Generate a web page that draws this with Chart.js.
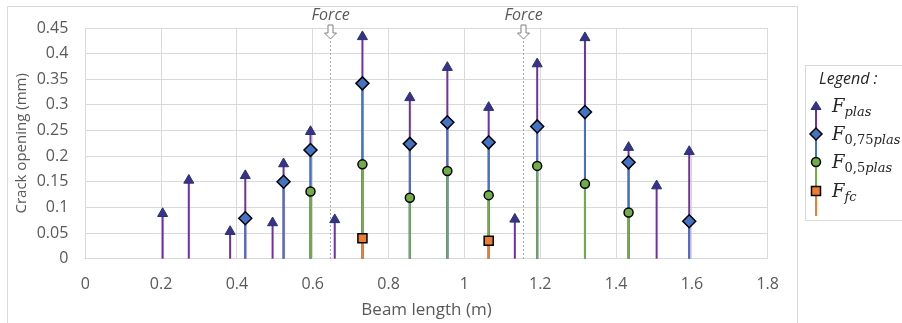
<!DOCTYPE html>
<html>
<head>
<meta charset="utf-8">
<script src="https://cdn.jsdelivr.net/npm/chart.js@4.4.1/dist/chart.umd.min.js"></script>
<style>
  body { margin: 0; background: #fff; }
  #wrap { position: relative; width: 902px; height: 323px; overflow: hidden; }
  #frame { position: absolute; left: 7px; top: 6px; width: 791px; height: 340px; box-sizing: border-box; border: 1px solid #d9d9d9; }
  #legendBox { position: absolute; left: 805px; top: 65px; width: 120px; height: 156px; box-sizing: border-box; border: 1px solid #d9d9d9; }
  .lg { position: absolute; white-space: nowrap; color: #262626; }
  .lgTitle { font: italic 16px/20px 'Open Sans'; }
  .math { font: italic 18px/20px 'DejaVu Serif'; }
  .math .sb { font-size: 13px; position: relative; top: 4px; }
  .math .up { font-style: normal; }
  #legendMarks { position: absolute; left: 805px; top: 65px; }
  canvas { position: absolute; left: 0; top: 0; }
</style>
</head>
<body>
<div id="wrap">
  <div id="frame"></div>
  <canvas id="chartCrack" width="902" height="323"></canvas>
  <div id="legendBox"></div>
  <svg id="legendMarks" width="30" height="156">
    <line x1="11" y1="41" x2="11" y2="69" stroke="#7030A0" stroke-width="2"/>
    <line x1="11" y1="69" x2="11" y2="97" stroke="#4472C4" stroke-width="2"/>
    <line x1="11" y1="97" x2="11" y2="126" stroke="#70AD47" stroke-width="2"/>
    <line x1="11" y1="126" x2="11" y2="151" stroke="#ED7D31" stroke-width="2"/>
    <polygon points="11,36.5 16,44.5 6,44.5" fill="#3C2F8F" stroke="#203864" stroke-width="1"/>
    <polygon points="11,63 17,69 11,75 5,69" fill="#4472C4" stroke="#000" stroke-width="1.5"/>
    <circle cx="11" cy="97" r="4.5" fill="#70AD47" stroke="#000" stroke-width="1.5"/>
    <rect x="6.5" y="121.5" width="9" height="9" fill="#ED7D31" stroke="#000" stroke-width="1.5"/>
  </svg>
  <div class="lg lgTitle" style="left:819px;top:68px">Legend :</div>
  <div class="lg math" style="left:832px;top:96px">F<span class="sb">plas</span></div>
  <div class="lg math" style="left:832px;top:124px">F<span class="sb"><span class="up">0,75</span>plas</span></div>
  <div class="lg math" style="left:832px;top:152px">F<span class="sb"><span class="up">0,5</span>plas</span></div>
  <div class="lg math" style="left:832px;top:181px">F<span class="sb">fc</span></div>
</div>
<script>
// crack positions along the beam (m)
const positions = [0.204, 0.273, 0.382, 0.422, 0.494, 0.523, 0.594, 0.658, 0.731, 0.856,
                   0.955, 1.064, 1.133, 1.192, 1.318, 1.433, 1.507, 1.593];

// crack opening (mm) per load level, null = no crack measured
const fPlas   = [0.088, 0.153, 0.053, 0.162, 0.070, 0.185, 0.248, 0.076, 0.433, 0.314,
                 0.373, 0.295, 0.077, 0.380, 0.431, 0.217, 0.142, 0.209];
const f075    = [null, null, null, 0.079, null, 0.150, 0.212, null, 0.342, 0.224,
                 0.266, 0.227, null, 0.258, 0.286, 0.188, null, 0.073];
const f05     = [null, null, null, null, null, null, 0.131, null, 0.184, 0.119,
                 0.171, 0.124, null, 0.181, 0.146, 0.090, null, null];
const fFc     = [null, null, null, null, null, null, null, null, 0.040, null,
                 null, 0.035, null, null, null, null, null, null];

const forcePositions = [0.645, 1.155];

const xTicks = [0, 0.2, 0.4, 0.6, 0.8, 1, 1.2, 1.4, 1.6, 1.8];
const xTickLabels = ['0', '0.2', '0.4', '0.6', '0.8', '1', '1.2', '1.4', '1.6', '1.8'];
const yTicks = [0, 0.05, 0.1, 0.15, 0.2, 0.25, 0.3, 0.35, 0.4, 0.45];
const yTickLabels = ['0', '0.05', '0.1', '0.15', '0.2', '0.25', '0.3', '0.35', '0.4', '0.45'];

function toPoints(values) {
  return positions.map((x, i) => ({ x: x, y: values[i] })).filter(p => p.y !== null);
}

// vertical stem from 0 up to each marker, drawn series by series
const stemPlugin = {
  id: 'stems',
  beforeDatasetsDraw(chart) {
    const { ctx, scales } = chart;
    const y0 = scales.y.getPixelForValue(0);
    ctx.save();
    ctx.lineWidth = 2;
    chart.data.datasets.forEach((ds, i) => {
      const meta = chart.getDatasetMeta(i);
      ctx.strokeStyle = ds.stemColor;
      meta.data.forEach(pt => {
        ctx.beginPath();
        ctx.moveTo(pt.x, y0);
        ctx.lineTo(pt.x, pt.y);
        ctx.stroke();
      });
    });
    ctx.restore();
  }
};

// "Force" arrows with dotted guide line
const forcePlugin = {
  id: 'forces',
  beforeDatasetsDraw(chart) {
    const { ctx, chartArea, scales } = chart;
    const top = chartArea.top;
    ctx.save();
    forcePositions.forEach(f => {
      const cx = Math.round(scales.x.getPixelForValue(f)) + 0.5;
      ctx.strokeStyle = '#a6a6a6';
      ctx.lineWidth = 1;
      ctx.setLineDash([2, 2]);
      ctx.beginPath();
      ctx.moveTo(cx, top + 13);
      ctx.lineTo(cx, chartArea.bottom);
      ctx.stroke();
      ctx.setLineDash([]);

      ctx.beginPath();
      ctx.moveTo(cx - 2.5, top - 3);
      ctx.lineTo(cx + 2.5, top - 3);
      ctx.lineTo(cx + 2.5, top + 5);
      ctx.lineTo(cx + 6, top + 5);
      ctx.lineTo(cx, top + 11);
      ctx.lineTo(cx - 6, top + 5);
      ctx.lineTo(cx - 2.5, top + 5);
      ctx.closePath();
      ctx.fillStyle = '#fff';
      ctx.fill();
      ctx.strokeStyle = '#7f7f7f';
      ctx.stroke();

      ctx.fillStyle = '#595959';
      ctx.font = "italic 16px 'Open Sans'";
      ctx.textAlign = 'center';
      ctx.textBaseline = 'middle';
      ctx.fillText('Force', cx, top - 13);
    });
    ctx.restore();
  }
};

Chart.defaults.font.family = "'Open Sans'";
Chart.defaults.color = '#595959';

new Chart(document.getElementById('chartCrack'), {
  type: 'scatter',
  data: {
    datasets: [
      {
        label: 'F plas',
        data: toPoints(fPlas),
        stemColor: '#7030A0',
        pointStyle: 'triangle',
        pointRadius: 5.8,
        backgroundColor: '#3C2F8F',
        borderColor: '#203864',
        borderWidth: 1,
        order: 3
      },
      {
        label: 'F 0,75plas',
        data: toPoints(f075),
        stemColor: '#4472C4',
        pointStyle: 'rectRot',
        pointRadius: 6.5,
        backgroundColor: '#4472C4',
        borderColor: '#000',
        borderWidth: 1.5,
        order: 2
      },
      {
        label: 'F 0,5plas',
        data: toPoints(f05),
        stemColor: '#70AD47',
        pointStyle: 'circle',
        pointRadius: 4.5,
        backgroundColor: '#70AD47',
        borderColor: '#000',
        borderWidth: 1.5,
        order: 1
      },
      {
        label: 'F fc',
        data: toPoints(fFc),
        stemColor: '#ED7D31',
        pointStyle: 'rect',
        pointRadius: 6.4,
        backgroundColor: '#ED7D31',
        borderColor: '#000',
        borderWidth: 1.5,
        order: 0
      }
    ]
  },
  options: {
    responsive: false,
    animation: false,
    events: [],
    layout: { padding: { left: 0, top: 28, right: 134.3, bottom: 0 } },
    plugins: {
      legend: { display: false },
      tooltip: { enabled: false }
    },
    scales: {
      x: {
        type: 'linear',
        min: 0,
        max: 1.8,
        afterBuildTicks: scale => { scale.ticks = xTicks.map(v => ({ value: v })); },
        afterFit: scale => { scale.height = 64.3; },
        grid: { color: '#d9d9d9', drawTicks: false },
        border: { color: '#d9d9d9' },
        ticks: {
          padding: 16,
          font: { size: 16 },
          callback: (v, i) => xTickLabels[i]
        },
        title: {
          display: true,
          text: 'Beam length (m)',
          font: { size: 17 },
          padding: { top: 0, bottom: 3 }
        }
      },
      y: {
        min: 0,
        max: 0.45,
        afterBuildTicks: scale => { scale.ticks = yTicks.map(v => ({ value: v })); },
        afterFit: scale => { scale.width = 85.3; },
        grid: { color: '#d9d9d9', drawTicks: false },
        border: { color: '#d9d9d9' },
        ticks: {
          padding: 17,
          font: { size: 16 },
          callback: (v, i) => yTickLabels[i]
        },
        title: {
          display: true,
          text: 'Crack opening (mm)',
          font: { size: 15 },
          padding: { top: 13, bottom: 0 }
        }
      }
    }
  },
  plugins: [stemPlugin, forcePlugin]
});
</script>
</body>
</html>
